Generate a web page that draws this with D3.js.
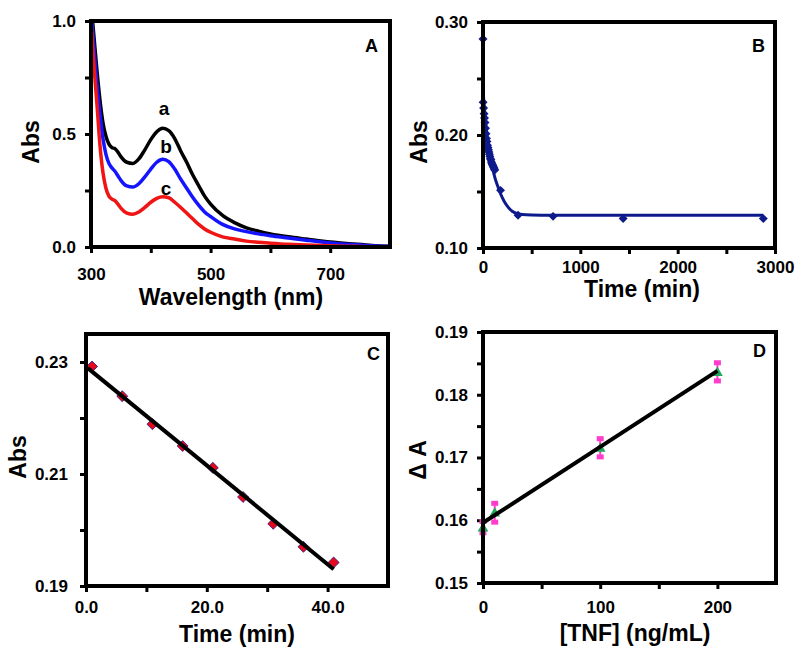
<!DOCTYPE html>
<html>
<head>
<meta charset="utf-8">
<script src="https://cdn.jsdelivr.net/npm/d3@7"></script>
<style>
body{margin:0;background:#fff}
svg text{font-family:"Liberation Sans",Arial,sans-serif;font-weight:bold;fill:#000}
</style>
</head>
<body>
<svg id="fig" width="800" height="661"></svg>
<script>
/* PANEL A: spectra */
var wavelength = [300,305,310,315,320,325,330,335,340,345,350,360,370,380,390,400,410,420,430,440,450,460,470,480,490,500,520,540,560,580,600,630,660,700,740,770,800];
var absA = [1.08,0.93,0.78,0.65,0.55,0.49,0.455,0.44,0.435,0.42,0.40,0.375,0.37,0.39,0.43,0.475,0.51,0.525,0.515,0.48,0.425,0.375,0.32,0.272,0.225,0.19,0.14,0.108,0.085,0.07,0.058,0.045,0.035,0.022,0.013,0.007,0.003];
var absB = [1.05,0.88,0.72,0.59,0.48,0.41,0.37,0.35,0.335,0.315,0.295,0.27,0.265,0.28,0.31,0.345,0.375,0.388,0.378,0.345,0.30,0.26,0.22,0.185,0.155,0.135,0.10,0.08,0.068,0.058,0.05,0.04,0.03,0.018,0.01,0.005,0.002];
var absC = [1.0,0.80,0.63,0.45,0.33,0.26,0.225,0.212,0.205,0.19,0.172,0.15,0.145,0.155,0.175,0.198,0.215,0.222,0.218,0.198,0.175,0.15,0.125,0.10,0.08,0.065,0.045,0.035,0.026,0.021,0.017,0.012,0.009,0.005,0.003,0.001,0.0];
var spectraNames = ["a","b","c"];

/* PANEL B: kinetics */
var kinTime = [0,1,6,11,16,21,26,31,36,41,46,51,56,61,66,71,76,81,86,91,96,101,106,111,116,121,180,360,720,1440,2880];
var kinAbs = [0.285,0.229,0.2239,0.2189,0.2150,0.2111,0.2059,0.2011,0.1970,0.1942,0.191,0.189,0.187,0.185,0.183,0.181,0.179,0.178,0.176,0.175,0.174,0.173,0.172,0.171,0.170,0.169,0.151,0.129,0.128,0.126,0.126];
var kinFitTime = [0,10,20,40,60,80,100,120,150,180,220,260,300,350,400,500,700,1000,2000,2880];
var kinFitAbs = [0.240,0.228,0.218,0.200,0.187,0.178,0.170,0.163,0.155,0.148,0.141,0.136,0.1325,0.1305,0.1297,0.1292,0.129,0.129,0.129,0.129];

/* PANEL C: first 41 min */
var earlyTime = [1,6,11,16,21,26,31,36,41];
var earlyAbs = [0.2292,0.2239,0.2189,0.2150,0.2111,0.2059,0.2011,0.1970,0.1942];
var earlyFit = [[0.3,0.2289],[41,0.1930]];

/* PANEL D: calibration */
var tnf = [0,10,100,200];
var deltaA = [0.1587,0.1611,0.1714,0.1835];
var deltaLo = [0.1580,0.1597,0.1701,0.1822];
var deltaHi = [0.1598,0.1627,0.1730,0.1851];
var calFit = [[0,0.1596],[200,0.1838]];

var svg = d3.select("#fig");
var navy = "#0d1a8c";

function panel(o){
  var g = svg.append("g");
  var x = d3.scaleLinear().domain(o.xDomain).range([o.left, o.right]);
  var y = d3.scaleLinear().domain(o.yDomain).range([o.bottom, o.top]);

  svg.append("clipPath").attr("id","clip-"+o.name)
    .append("rect")
      .attr("x",o.left).attr("y",o.top)
      .attr("width",o.right-o.left).attr("height",o.bottom-o.top);

  function isIn(list){ return function(d){ return list.some(function(m){ return Math.abs(m-d)<1e-9; }); }; }
  var xMaj = isIn(o.xMajor), yMaj = isIn(o.yMajor);

  var xAxis = d3.axisBottom(x)
      .tickValues(o.xMajor.concat(o.xMinor))
      .tickSize(6).tickPadding(o.xPad)
      .tickFormat(function(d){ return xMaj(d) ? o.xFmt(d) : ""; });
  var yAxis = d3.axisLeft(y)
      .tickValues(o.yMajor.concat(o.yMinor))
      .tickSize(6).tickPadding(o.yPad)
      .tickFormat(function(d){ return yMaj(d) ? o.yFmt(d) : ""; });

  var gx = g.append("g").attr("transform","translate(0,"+o.bottom+")").call(xAxis);
  var gy = g.append("g").attr("transform","translate("+o.left+",0)").call(yAxis);
  [gx,gy].forEach(function(a){
    a.attr("font-family",null).attr("font-size",null);
    a.select(".domain").remove();
    a.selectAll(".tick line").attr("stroke","#000").attr("stroke-width",3);
    a.selectAll(".tick text").style("font-size","17px");
  });

  // x title
  g.append("text")
    .attr("x",o.xTitlePos[0]).attr("y",o.xTitlePos[1])
    .attr("text-anchor","middle")
    .style("font-size","23px")
    .text(o.xTitle);
  // y title
  g.append("text")
    .attr("transform","translate("+o.yTitlePos[0]+","+o.yTitlePos[1]+") rotate(-90)")
    .attr("text-anchor","middle")
    .style("font-size","23px")
    .text(o.yTitle);
  // panel letter
  g.append("text")
    .attr("x",o.letterPos[0]).attr("y",o.letterPos[1])
    .style("font-size","18px")
    .text(o.name);

  var plot = g.append("g").attr("clip-path","url(#clip-"+o.name+")");

  // frame drawn last so it sits over the data
  var frame = function(){
    g.append("rect")
      .attr("x",o.left).attr("y",o.top)
      .attr("width",o.right-o.left).attr("height",o.bottom-o.top)
      .attr("fill","none").attr("stroke","#000").attr("stroke-width",4);
  };
  return {g:g, plot:plot, x:x, y:y, frame:frame};
}

/* ---------- A ---------- */
var pA = panel({
  name:"A", left:91, right:390, top:21, bottom:247,
  xDomain:[300,800], yDomain:[0,1],
  xMajor:[300,500,700], xMinor:[400,600], xFmt:d3.format("d"), xPad:15,
  yMajor:[0,0.5,1], yMinor:[0.25,0.75], yFmt:d3.format(".1f"), yPad:9,
  xTitle:"Wavelength (nm)", xTitlePos:[231,305],
  yTitle:"Abs", yTitlePos:[39,142],
  letterPos:[365,52]
});
var specLine = d3.line()
  .x(function(d){ return pA.x(d[0]); })
  .y(function(d){ return pA.y(d[1]); })
  .curve(d3.curveMonotoneX);
var spectra = [
  {name:"a", color:"#000000", values:absA},
  {name:"b", color:"#1414ff", values:absB},
  {name:"c", color:"#f01414", values:absC}
];
spectra.forEach(function(s){
  pA.plot.append("path")
    .datum(wavelength.map(function(w,i){ return [w, s.values[i]]; }))
    .attr("d", specLine)
    .attr("fill","none").attr("stroke",s.color).attr("stroke-width",3.5)
    .attr("stroke-linejoin","round");
});
var curveLabelPos = [[164,115],[166,153],[166,195]];
spectraNames.forEach(function(n,i){
  pA.g.append("text")
    .attr("x",curveLabelPos[i][0]).attr("y",curveLabelPos[i][1])
    .attr("text-anchor","middle")
    .style("font-size","19px")
    .text(n);
});
pA.frame();

/* ---------- B ---------- */
var pB = panel({
  name:"B", left:483, right:775, top:22, bottom:248,
  xDomain:[0,3000], yDomain:[0.10,0.30],
  xMajor:[0,1000,2000,3000], xMinor:[500,1500,2500], xFmt:d3.format("d"), xPad:7,
  yMajor:[0.10,0.20,0.30], yMinor:[0.15,0.25], yFmt:d3.format(".2f"), yPad:9,
  xTitle:"Time (min)", xTitlePos:[642,297],
  yTitle:"Abs", yTitlePos:[427,142],
  letterPos:[752,52]
});
pB.plot.append("path")
  .datum(kinFitTime.map(function(t,i){ return [t, kinFitAbs[i]]; }))
  .attr("d", d3.line()
    .x(function(d){ return pB.x(d[0]); })
    .y(function(d){ return pB.y(d[1]); })
    .curve(d3.curveMonotoneX))
  .attr("fill","none").attr("stroke",navy).attr("stroke-width",3);
pB.g.selectAll(".kin-pt")
  .data(kinTime.map(function(t,i){ return [t, kinAbs[i]]; }))
  .enter().append("path")
    .attr("class","kin-pt")
    .attr("d", d3.symbol().type(d3.symbolSquare).size(40))
    .attr("transform", function(d){ return "translate("+pB.x(d[0])+","+pB.y(d[1])+") rotate(45)"; })
    .attr("fill",navy);
pB.frame();

/* ---------- C ---------- */
var pC = panel({
  name:"C", left:86, right:388, top:334, bottom:586,
  xDomain:[0,50], yDomain:[0.19,0.235],
  xMajor:[0,20,40], xMinor:[10,30], xFmt:d3.format(".1f"), xPad:9,
  yMajor:[0.19,0.21,0.23], yMinor:[0.20,0.22], yFmt:d3.format(".2f"), yPad:12,
  xTitle:"Time (min)", xTitlePos:[237,642],
  yTitle:"Abs", yTitlePos:[26,457],
  letterPos:[367,360]
});
pC.plot.selectAll(".early-pt")
  .data(earlyTime.map(function(t,i){ return [t, earlyAbs[i]]; }))
  .enter().append("path")
    .attr("class","early-pt")
    .attr("d", d3.symbol().type(d3.symbolSquare).size(60))
    .attr("transform", function(d){ return "translate("+pC.x(d[0])+","+pC.y(d[1])+") rotate(45)"; })
    .attr("fill","#e8081c").attr("stroke","#2a1a8a").attr("stroke-width",0.8);
pC.plot.append("path")
  .datum(earlyFit)
  .attr("d", d3.line()
    .x(function(d){ return pC.x(d[0]); })
    .y(function(d){ return pC.y(d[1]); }))
  .attr("fill","none").attr("stroke","#000").attr("stroke-width",4);
pC.frame();

/* ---------- D ---------- */
var pD = panel({
  name:"D", left:483, right:776, top:332, bottom:583,
  xDomain:[0,250], yDomain:[0.15,0.19],
  xMajor:[0,100,200], xMinor:[50,150], xFmt:d3.format("d"), xPad:12,
  yMajor:[0.15,0.16,0.17,0.18,0.19], yMinor:[0.155,0.165,0.175,0.185], yFmt:d3.format(".2f"), yPad:9,
  xTitle:"[TNF] (ng/mL)", xTitlePos:[635,641],
  yTitle:"\u0394 A", yTitlePos:[426,460],
  letterPos:[753,357]
});
var calData = tnf.map(function(c,i){ return {c:c, v:deltaA[i], lo:deltaLo[i], hi:deltaHi[i]}; });
var err = pD.g.selectAll(".err").data(calData).enter().append("g").attr("class","err");
err.append("line")
  .attr("x1",function(d){ return pD.x(d.c); }).attr("x2",function(d){ return pD.x(d.c); })
  .attr("y1",function(d){ return pD.y(d.lo); }).attr("y2",function(d){ return pD.y(d.hi); })
  .attr("stroke","#ff3ccc").attr("stroke-width",2);
["lo","hi"].forEach(function(k){
  err.append("rect")
    .attr("x",function(d){ return pD.x(d.c)-3.5; })
    .attr("y",function(d){ return pD.y(d[k])-2.5; })
    .attr("width",7).attr("height",5)
    .attr("fill","#ff3ccc");
});
pD.g.selectAll(".cal-pt").data(calData).enter().append("path")
  .attr("class","cal-pt")
  .attr("d", d3.symbol().type(d3.symbolTriangle).size(50))
  .attr("transform", function(d){ return "translate("+pD.x(d.c)+","+pD.y(d.v)+")"; })
  .attr("fill","#1fa85a");
pD.g.append("path")
  .datum(calFit)
  .attr("d", d3.line()
    .x(function(d){ return pD.x(d[0]); })
    .y(function(d){ return pD.y(d[1]); }))
  .attr("fill","none").attr("stroke","#000").attr("stroke-width",4);
pD.frame();
</script>
</body>
</html>
